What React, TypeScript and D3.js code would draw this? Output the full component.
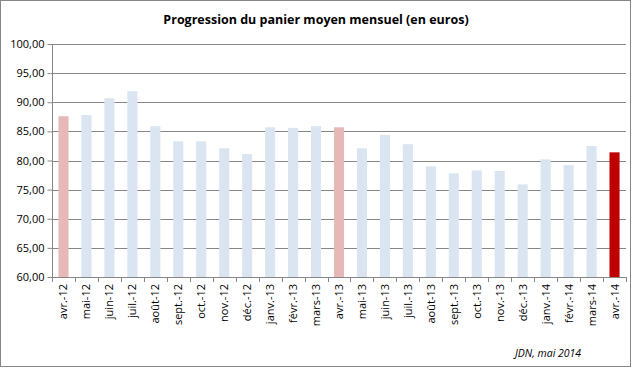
import { useEffect, useRef } from 'react';
import * as d3 from 'd3';

const months = [
  'avr.-12', 'mai-12', 'juin-12', 'juil.-12', 'août-12', 'sept.-12', 'oct.-12', 'nov.-12', 'déc.-12',
  'janv.-13', 'févr.-13', 'mars-13', 'avr.-13', 'mai-13', 'juin-13', 'juil.-13', 'août-13', 'sept.-13',
  'oct.-13', 'nov.-13', 'déc.-13', 'janv.-14', 'févr.-14', 'mars-14', 'avr.-14',
];
const basket = [
  87.6, 87.8, 90.7, 91.9, 85.9, 83.3, 83.3, 82.1, 81.1,
  85.7, 85.6, 85.9, 85.7, 82.1, 84.4, 82.8, 79.0, 77.8,
  78.3, 78.2, 75.9, 80.2, 79.2, 82.5, 81.4,
];
const yTicks = [60, 65, 70, 75, 80, 85, 90, 95, 100];

const colors = {
  bar: '#dbe5f1',
  april: '#e6b9b8',
  current: '#c00000',
  grid: '#868686',
  text: '#000000',
};

export default function App() {
  const ref = useRef<SVGSVGElement>(null);

  useEffect(() => {
    document.body.style.margin = '0';
    const svg = d3.select(ref.current);
    svg.selectAll('*').remove();

    const width = 632;
    const height = 368;
    const left = 52;
    const right = 626;
    const top = 44;
    const bottom = 277;
    const font = 'Open Sans, Noto Sans, sans-serif';

    svg
      .append('rect')
      .attr('x', 0.5)
      .attr('y', 0.5)
      .attr('width', width - 2)
      .attr('height', height - 2)
      .attr('fill', 'white')
      .attr('stroke', colors.grid);

    const x = d3.scaleBand().domain(months).range([left, right]).paddingInner(0.56).paddingOuter(0.28);
    const y = d3.scaleLinear().domain([60, 100]).range([bottom, top]);

    // horizontal grid lines
    svg
      .append('g')
      .selectAll('line')
      .data(yTicks.slice(1))
      .enter()
      .append('line')
      .attr('x1', left)
      .attr('x2', right)
      .attr('y1', d => Math.round(y(d)) + 0.5)
      .attr('y2', d => Math.round(y(d)) + 0.5)
      .attr('stroke', colors.grid);

    svg
      .append('g')
      .selectAll('rect')
      .data(basket)
      .enter()
      .append('rect')
      .attr('x', (d, i) => x(months[i]))
      .attr('width', x.bandwidth())
      .attr('y', d => y(d))
      .attr('height', d => y(60) - y(d))
      .attr('fill', (d, i) =>
        i === months.length - 1 ? colors.current : months[i].startsWith('avr.') ? colors.april : colors.bar
      );

    const yAxis = d3
      .axisLeft(y)
      .tickValues(yTicks)
      .tickSize(5)
      .tickPadding(3)
      .tickFormat(d => d3.format('.2f')(d as number).replace('.', ','));
    const gy = svg.append('g').attr('transform', `translate(${left + 0.5},0)`).call(yAxis);
    gy.select('.domain').attr('stroke', colors.grid).attr('d', `M0,${top}V${bottom}`);
    gy.selectAll('.tick line').attr('stroke', colors.grid);
    gy.selectAll('.tick text').attr('font-family', font).attr('font-size', 11).attr('fill', colors.text);

    // category axis with ticks between bars
    const band = (right - left) / months.length;
    const gx = svg.append('g');
    gx.append('line')
      .attr('x1', left)
      .attr('x2', right)
      .attr('y1', bottom + 0.5)
      .attr('y2', bottom + 0.5)
      .attr('stroke', colors.grid);
    gx.selectAll('line.tick')
      .data(d3.range(months.length + 1))
      .enter()
      .append('line')
      .attr('class', 'tick')
      .attr('x1', i => Math.round(left + i * band) + 0.5)
      .attr('x2', i => Math.round(left + i * band) + 0.5)
      .attr('y1', bottom)
      .attr('y2', bottom + 5)
      .attr('stroke', colors.grid);
    gx.selectAll('text')
      .data(months)
      .enter()
      .append('text')
      .text(d => d)
      .attr('font-family', font)
      .attr('font-size', 11)
      .attr('fill', colors.text)
      .attr('text-anchor', 'end')
      .attr('transform', d => `translate(${x(d)! + x.bandwidth() / 2 + 4},${bottom + 7}) rotate(-90)`);

    svg
      .append('text')
      .text('Progression du panier moyen mensuel (en euros)')
      .attr('x', 316)
      .attr('y', 24)
      .attr('text-anchor', 'middle')
      .attr('font-family', font)
      .attr('font-weight', 'bold')
      .attr('font-size', 12.5)
      .attr('fill', colors.text);

    svg
      .append('text')
      .text('JDN, mai 2014')
      .attr('x', 515)
      .attr('y', 357)
      .attr('font-family', font)
      .attr('font-style', 'italic')
      .attr('font-size', 10.5)
      .attr('fill', colors.text);
  }, []);

  return <svg ref={ref} width={632} height={368} style={{ display: 'block' }} />;
}
